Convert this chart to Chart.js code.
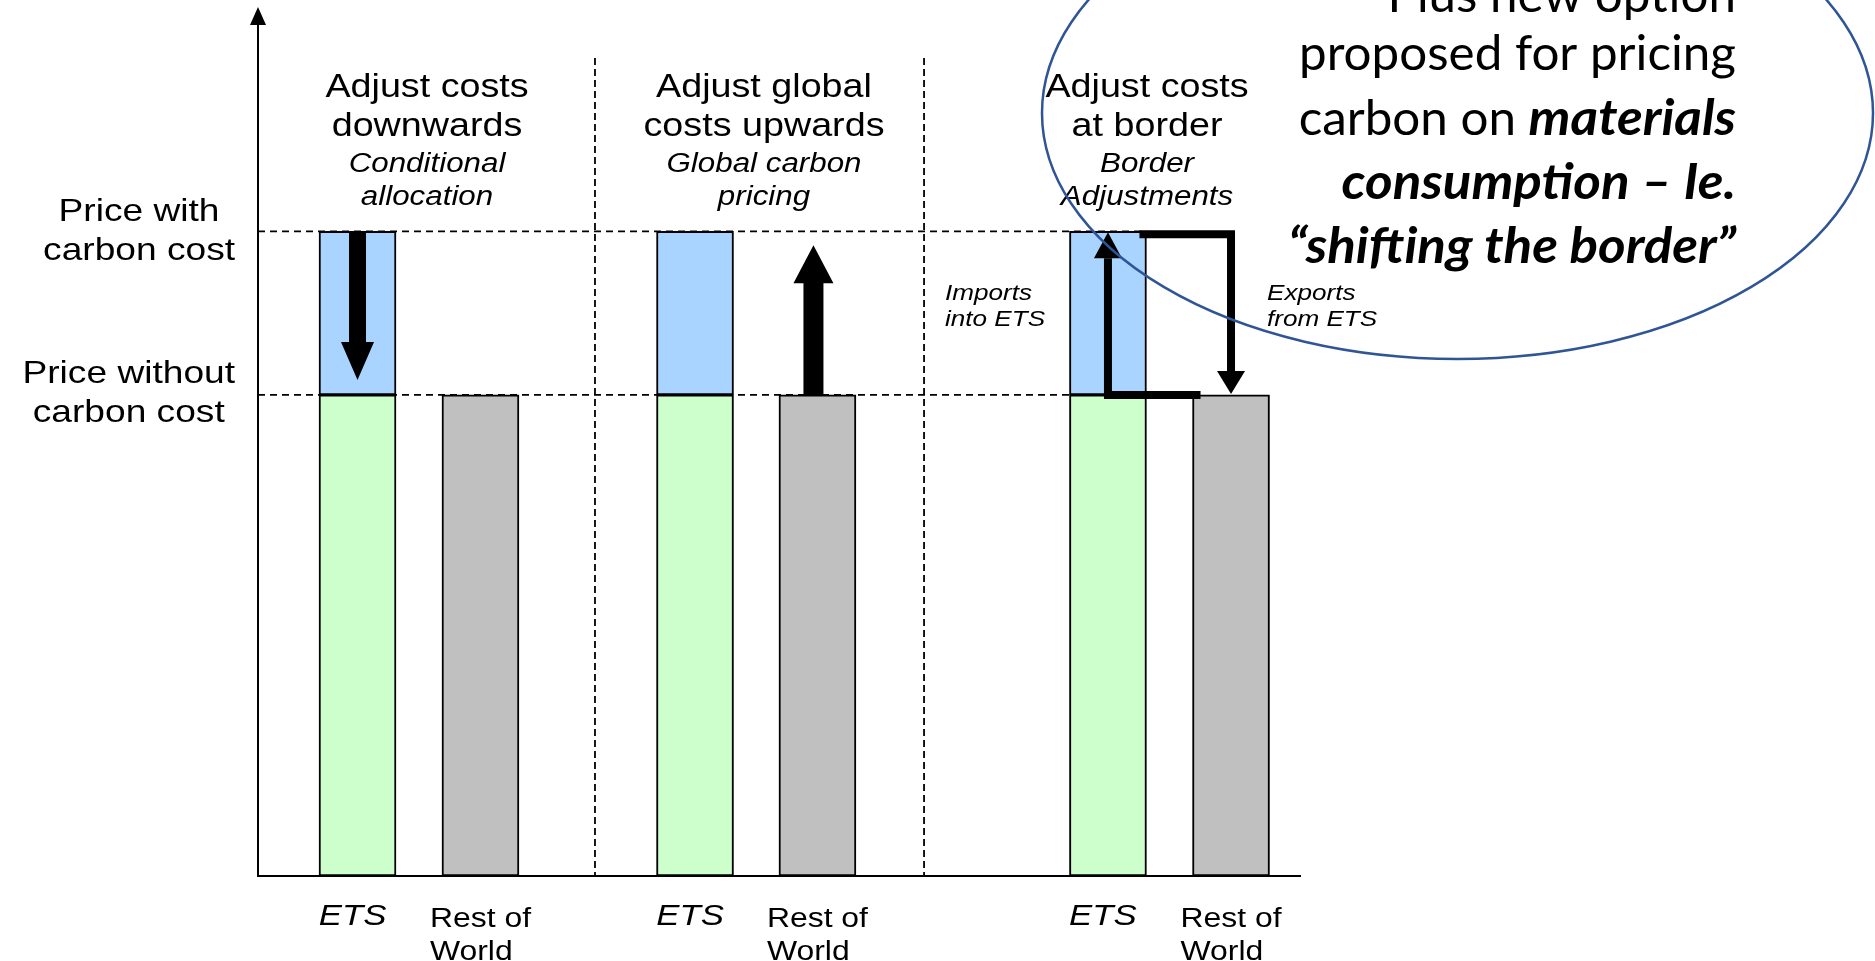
<!DOCTYPE html>
<html>
<head>
<meta charset="utf-8">
<title>Carbon cost adjustment options</title>
<script src="https://cdn.jsdelivr.net/npm/chart.js@4/dist/chart.umd.min.js"></script>
<style>
  html, body { margin: 0; padding: 0; background: #ffffff; overflow: hidden; }
  canvas { display: block; }
</style>
</head>
<body>
<canvas id="chart" width="1875" height="961"></canvas>
<script>
// ---- values ----
const categories = ['ETS', 'Rest of World', 'ETS', 'Rest of World', 'ETS', 'Rest of World'];
const priceWithoutCarbon = [100, 100, 100, 100, 100, 100];
const carbonCost = [34, null, 34, null, 34, null];
const priceTickValues = [134, 100];
const priceTickLabels = [['Price with', 'carbon cost'], ['Price without', 'carbon cost']];
const approachTitles = [['Adjust costs', 'downwards'], ['Adjust global', 'costs upwards'], ['Adjust costs', 'at border']];
const approachSubtitles = [['Conditional', 'allocation'], ['Global carbon', 'pricing'], ['Border', 'Adjustments']];
const flowLabels = [['Imports', 'into ETS'], ['Exports', 'from ETS']];
const calloutLines = [
  [{ t: 'Plus new option' }],
  [{ t: 'proposed for pricing' }],
  [{ t: 'carbon on ' }, { t: 'materials', b: true }],
  [{ t: 'consumption \u2013 Ie.', b: true }],
  [{ t: '\u201Cshifting the border\u201D', b: true }]
];

// ---- layout along the x axis (0-100 across the axis) ----
const barSlot = [9.55, 21.35, 41.94, 53.69, 81.57, 93.38];
const dividerSlot = [32.34, 63.92];
const titleSlot = [16.22, 48.56, 85.32];
const flowSlot = [65.93, 96.83];

const GREEN = '#ccffcc';
const BLUE = '#a8d4ff';
const GREY = '#c0c0c0';
const ARIAL = '"Liberation Sans", Arial, Helvetica, sans-serif';
const SX = 1.16; // horizontal stretch of the diagram lettering

function stretchedText(ctx, s, x, y, font, align, sx) {
  ctx.save();
  ctx.font = font;
  ctx.textAlign = align;
  ctx.textBaseline = 'alphabetic';
  ctx.translate(x, y);
  ctx.scale(sx, 1);
  ctx.fillText(s, 0, 0);
  ctx.restore();
}
function textWidth(ctx, s, font) {
  ctx.save(); ctx.font = font;
  const w = ctx.measureText(s).width;
  ctx.restore();
  return w;
}
function blockArrow(ctx, cx, yFrom, yTip, shaftW, headW, headH) {
  const dir = yTip > yFrom ? 1 : -1;
  const yBase = yTip - dir * headH;
  ctx.beginPath();
  ctx.moveTo(cx - shaftW / 2, yFrom);
  ctx.lineTo(cx + shaftW / 2, yFrom);
  ctx.lineTo(cx + shaftW / 2, yBase);
  ctx.lineTo(cx + headW / 2, yBase);
  ctx.lineTo(cx, yTip);
  ctx.lineTo(cx - headW / 2, yBase);
  ctx.lineTo(cx - shaftW / 2, yBase);
  ctx.closePath();
  ctx.fill();
}
function head(ctx, cx, yTip, yBase, w) {
  ctx.beginPath();
  ctx.moveTo(cx - w / 2, yBase);
  ctx.lineTo(cx + w / 2, yBase);
  ctx.lineTo(cx, yTip);
  ctx.closePath();
  ctx.fill();
}

const diagram = {
  id: 'diagram',
  beforeDatasetsDraw(chart) {
    const { ctx, chartArea, scales: { x, y } } = chart;
    const bars = chart.getDatasetMeta(0).data;
    ctx.save();
    ctx.strokeStyle = '#000';
    ctx.lineWidth = 1.8;
    ctx.setLineDash([7, 5]);
    const endX = bars[4].x + bars[4].width / 2;
    priceTickValues.forEach(v => {
      const py = y.getPixelForValue(v);
      ctx.beginPath(); ctx.moveTo(chartArea.left, py); ctx.lineTo(endX, py); ctx.stroke();
    });
    ctx.setLineDash([7, 4]);
    dividerSlot.forEach(s => {
      const px = x.getPixelForValue(s);
      ctx.beginPath(); ctx.moveTo(px, y.getPixelForValue(170)); ctx.lineTo(px, chartArea.bottom); ctx.stroke();
    });
    ctx.restore();
  },
  afterDatasetsDraw(chart) {
    const { ctx, scales: { y } } = chart;
    const bars = chart.getDatasetMeta(0).data;
    const yHi = y.getPixelForValue(priceTickValues[0]);
    const yLo = y.getPixelForValue(priceTickValues[1]);
    ctx.save();
    ctx.fillStyle = '#000';
    ctx.strokeStyle = '#000';
    // conditional allocation: cost pushed down
    blockArrow(ctx, bars[0].x, yHi + 1, yLo - 15, 17, 33, 38);
    // global pricing: rest of world pushed up
    blockArrow(ctx, bars[3].x - 4, yLo, yHi + 14, 20, 40, 38);
    // border adjustments
    ctx.lineWidth = 8;
    ctx.lineJoin = 'miter';
    ctx.lineCap = 'butt';
    ctx.beginPath();
    ctx.moveTo(bars[5].x - bars[5].width / 2 + 8, yLo);
    ctx.lineTo(bars[4].x, yLo);
    ctx.lineTo(bars[4].x, yHi + 27);
    ctx.stroke();
    head(ctx, bars[4].x, yHi + 1, yHi + 27, 28);
    const yTop = yHi + 3;
    ctx.beginPath();
    ctx.moveTo(bars[4].x + bars[4].width / 2 - 7, yTop);
    ctx.lineTo(bars[5].x, yTop);
    ctx.lineTo(bars[5].x, yLo - 24);
    ctx.stroke();
    head(ctx, bars[5].x, yLo - 1, yLo - 24, 28);
    ctx.restore();
  },
  afterDraw(chart) {
    const { ctx, chartArea, scales: { x, y } } = chart;
    const bars = chart.getDatasetMeta(0).data;
    ctx.save();
    ctx.fillStyle = '#000';

    // arrow tip on the vertical axis
    ctx.beginPath();
    ctx.moveTo(chartArea.left - 8, chartArea.top + 15);
    ctx.lineTo(chartArea.left + 8, chartArea.top + 15);
    ctx.lineTo(chartArea.left, chartArea.top - 3);
    ctx.closePath();
    ctx.fill();

    // price labels on the vertical axis
    const fPrice = '32px ' + ARIAL;
    const labelShift = [-10, -12];
    priceTickValues.forEach((v, i) => {
      const lines = priceTickLabels[i];
      const bw = Math.max(...lines.map(l => textWidth(ctx, l, fPrice))) * SX;
      const cx = chartArea.left - 23 - bw / 2;
      const py = y.getPixelForValue(v);
      lines.forEach((l, k) => stretchedText(ctx, l, cx, py + labelShift[i] + 39 * k, fPrice, 'center', SX));
    });

    // approach headings
    const fTitle = '32.5px ' + ARIAL;
    const fSub = 'italic 27px ' + ARIAL;
    titleSlot.forEach((s, g) => {
      const cx = x.getPixelForValue(s);
      stretchedText(ctx, approachTitles[g][0], cx, 97, fTitle, 'center', SX);
      stretchedText(ctx, approachTitles[g][1], cx, 136, fTitle, 'center', SX);
      stretchedText(ctx, approachSubtitles[g][0], cx, 172, fSub, 'center', SX);
      stretchedText(ctx, approachSubtitles[g][1], cx, 205, fSub, 'center', SX);
    });

    // trade flow notes
    const fFlow = 'italic 22.5px ' + ARIAL;
    flowSlot.forEach((s, i) => {
      const lx = x.getPixelForValue(s);
      stretchedText(ctx, flowLabels[i][0], lx, 300, fFlow, 'left', SX);
      stretchedText(ctx, flowLabels[i][1], lx, 326, fFlow, 'left', SX);
    });

    // category labels under the bars
    const fEts = 'italic 30px ' + ARIAL;
    const fRow = '27.5px ' + ARIAL;
    categories.forEach((c, i) => {
      const bar = bars[i];
      if (c === 'ETS') {
        stretchedText(ctx, 'ETS', bar.x - 5, chartArea.bottom + 49, fEts, 'center', SX);
      } else {
        const words = c.split(' ');
        const first = words.slice(0, 2).join(' ');
        const second = words.slice(2).join(' ');
        const lx = bar.x - textWidth(ctx, first, fRow) * SX / 2;
        stretchedText(ctx, first, lx, chartArea.bottom + 51, fRow, 'left', SX);
        stretchedText(ctx, second, lx, chartArea.bottom + 84, fRow, 'left', SX);
      }
    });

    // callout ellipse
    ctx.strokeStyle = '#2f5597';
    ctx.lineWidth = 2.5;
    ctx.beginPath();
    ctx.ellipse(1457.5, 113, 415.5, 246, 0, 0, Math.PI * 2);
    ctx.stroke();

    // callout text, right aligned
    const fReg = '49px Lato, "Open Sans", sans-serif';
    const fBold = 'italic bold 49px Lato, "Open Sans", sans-serif';
    const fitReg = 437 / textWidth(ctx, 'proposed for pricing', fReg);
    const fitBold = 448 / textWidth(ctx, '\u201Cshifting the border\u201D', fBold);
    const baselines = [12, 70, 135, 199, 263];
    const right = 1736;
    calloutLines.forEach((segs, i) => {
      const widths = segs.map(sg => textWidth(ctx, sg.t, sg.b ? fBold : fReg) * (sg.b ? fitBold : fitReg));
      const total = widths.reduce((a, b) => a + b, 0);
      let cur = right - total;
      segs.forEach((sg, k) => {
        stretchedText(ctx, sg.t, cur, baselines[i], sg.b ? fBold : fReg, 'left', sg.b ? fitBold : fitReg);
        cur += widths[k];
      });
    });
    ctx.restore();
  }
};

const etsIndex = categories.map((c, i) => i).filter(i => carbonCost[i] !== null);

new Chart(document.getElementById('chart'), {
  type: 'bar',
  data: {
    datasets: [
      {
        label: 'Price without carbon cost',
        data: categories.map((c, i) => ({ x: barSlot[i], y: [0, priceWithoutCarbon[i]] })),
        backgroundColor: categories.map(c => (c === 'ETS' ? GREEN : GREY)),
        borderColor: '#000',
        borderWidth: 2,
        borderSkipped: false,
        barThickness: 77,
        maxBarThickness: 77,
        grouped: false
      },
      {
        label: 'Carbon cost',
        data: etsIndex.map(i => ({ x: barSlot[i], y: [priceWithoutCarbon[i], priceWithoutCarbon[i] + carbonCost[i]] })),
        backgroundColor: BLUE,
        borderColor: '#000',
        borderWidth: 2,
        borderSkipped: false,
        barThickness: 77,
        maxBarThickness: 77,
        grouped: false
      }
    ]
  },
  options: {
    responsive: false,
    animation: false,
    devicePixelRatio: 1,
    layout: { padding: { left: 258, right: 575, top: 10, bottom: 85 } },
    plugins: { legend: { display: false }, tooltip: { enabled: false }, title: { display: false } },
    scales: {
      x: {
        type: 'linear',
        min: 0,
        max: 100,
        offset: false,
        afterBuildTicks: s => { s.ticks = [{ value: 0 }, { value: 100 }]; },
        grid: { display: false, drawTicks: false, tickLength: 0 },
        ticks: { display: false },
        border: { display: true, color: '#000', width: 2 }
      },
      y: {
        min: 0,
        max: 180,
        afterBuildTicks: s => { s.ticks = priceTickValues.map(v => ({ value: v })); },
        grid: { display: false, drawTicks: false, tickLength: 0 },
        ticks: { display: false },
        border: { display: true, color: '#000', width: 2 }
      }
    }
  },
  plugins: [diagram]
});
</script>
</body>
</html>
